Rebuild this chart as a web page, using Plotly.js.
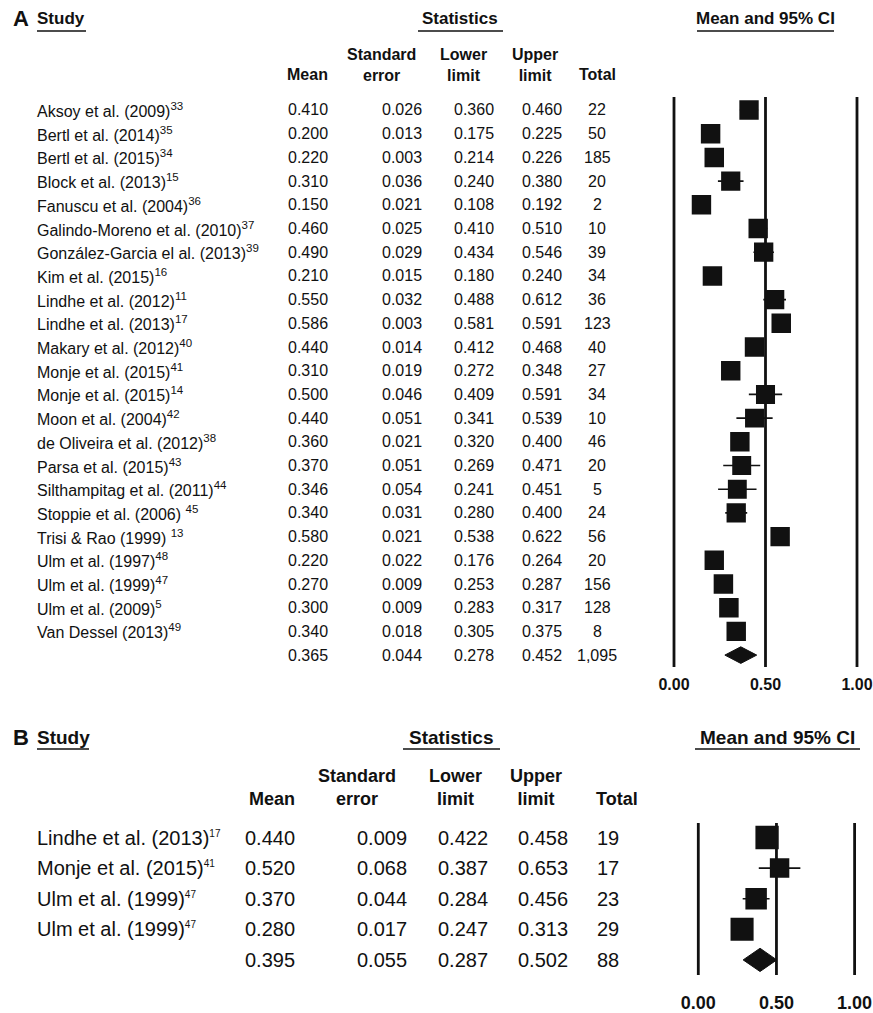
<!DOCTYPE html>
<html><head><meta charset="utf-8">
<script src="https://cdn.plot.ly/plotly-3.0.1.min.js"></script>
<style>html,body{margin:0;padding:0;background:#fff}#chart{width:873px;height:1013px}</style>
</head><body><div id="chart"></div>
<script>
// ---------------- DATA: panel A ----------------
const studiesA = [
  'Aksoy et al. (2009)<sup>33</sup>',
  'Bertl et al. (2014)<sup>35</sup>',
  'Bertl et al. (2015)<sup>34</sup>',
  'Block et al. (2013)<sup>15</sup>',
  'Fanuscu et al. (2004)<sup>36</sup>',
  'Galindo-Moreno et al. (2010)<sup>37</sup>',
  'González-Garcia el al. (2013)<sup>39</sup>',
  'Kim et al. (2015)<sup>16</sup>',
  'Lindhe et al. (2012)<sup>11</sup>',
  'Lindhe et al. (2013)<sup>17</sup>',
  'Makary et al. (2012)<sup>40</sup>',
  'Monje et al. (2015)<sup>41</sup>',
  'Monje et al. (2015)<sup>14</sup>',
  'Moon et al. (2004)<sup>42</sup>',
  'de Oliveira et al. (2012)<sup>38</sup>',
  'Parsa et al. (2015)<sup>43</sup>',
  'Silthampitag et al. (2011)<sup>44</sup>',
  'Stoppie et al. (2006) <sup>45</sup>',
  'Trisi &amp; Rao (1999) <sup>13</sup>',
  'Ulm et al. (1997)<sup>48</sup>',
  'Ulm et al. (1999)<sup>47</sup>',
  'Ulm et al. (2009)<sup>5</sup>',
  'Van Dessel (2013)<sup>49</sup>'
];
const meanA  = [0.410,0.200,0.220,0.310,0.150,0.460,0.490,0.210,0.550,0.586,0.440,0.310,0.500,0.440,0.360,0.370,0.346,0.340,0.580,0.220,0.270,0.300,0.340];
const seA    = [0.026,0.013,0.003,0.036,0.021,0.025,0.029,0.015,0.032,0.003,0.014,0.019,0.046,0.051,0.021,0.051,0.054,0.031,0.021,0.022,0.009,0.009,0.018];
const lowerA = [0.360,0.175,0.214,0.240,0.108,0.410,0.434,0.180,0.488,0.581,0.412,0.272,0.409,0.341,0.320,0.269,0.241,0.280,0.538,0.176,0.253,0.283,0.305];
const upperA = [0.460,0.225,0.226,0.380,0.192,0.510,0.546,0.240,0.612,0.591,0.468,0.348,0.591,0.539,0.400,0.471,0.451,0.400,0.622,0.264,0.287,0.317,0.375];
const totalA = [22,50,185,20,2,10,39,34,36,123,40,27,34,10,46,20,5,24,56,20,156,128,8];
const summaryMeanA = 0.365, summarySeA = 0.044, summaryLowerA = 0.278, summaryUpperA = 0.452, summaryTotalA = 1095;

// ---------------- DATA: panel B ----------------
const studiesB = [
  'Lindhe et al. (2013)<sup>17</sup>',
  'Monje et al. (2015)<sup>41</sup>',
  'Ulm et al. (1999)<sup>47</sup>',
  'Ulm et al. (1999)<sup>47</sup>'
];
const meanB  = [0.440,0.520,0.370,0.280];
const seB    = [0.009,0.068,0.044,0.017];
const lowerB = [0.422,0.387,0.284,0.247];
const upperB = [0.458,0.653,0.456,0.313];
const totalB = [19,17,23,29];
const summaryMeanB = 0.395, summarySeB = 0.055, summaryLowerB = 0.287, summaryUpperB = 0.502, summaryTotalB = 88;

const tickValues = [0, 0.5, 1];
const tickLabels = ['0.00', '0.50', '1.00'];

// ---------------- LAYOUT HELPERS ----------------
const W = 873, H = 1013;
const FONT = 'Liberation Sans, Arial, Helvetica, sans-serif';
const INK = '#111';
const px = v => v / W;
const py = v => 1 - v / H;

const traces = [], annotations = [], shapes = [];
const layout = {
  width: W, height: H, margin: {l:0, r:0, t:0, b:0},
  paper_bgcolor: '#fff', plot_bgcolor: 'rgba(0,0,0,0)',
  showlegend: false, font: {family: FONT, color: INK},
  annotations, shapes
};

function txt(text, x, y, yref, xanchor, size, bold) {
  annotations.push({
    text, x, y, xref: 'paper', yref, showarrow: false,
    xanchor, yanchor: 'middle', align: xanchor === 'left' ? 'left' : (xanchor === 'right' ? 'right' : 'center'),
    borderpad: 0, borderwidth: 0,
    font: {family: FONT, size, color: INK, weight: bold ? 'bold' : 'normal'}
  });
}
function uline(x0, x1, y) {
  shapes.push({type:'line', xref:'paper', yref:'paper', x0: px(x0), x1: px(x1), y0: py(y), y1: py(y),
    line:{color: INK, width: 1.6}});
}

function panel(cfg) {
  const n = cfg.mean.length;
  const xa = cfg.xa, ya = cfg.ya;
  const xName = 'xaxis' + (xa === 'x' ? '' : xa.slice(1));
  const yName = 'yaxis' + (ya === 'y' ? '' : ya.slice(1));
  const g = cfg.geo;
  const x0 = g.zeroPx - 0.05 * g.unitPx, x1 = g.zeroPx + 1.05 * g.unitPx;
  layout[xName] = {
    domain: [px(x0), px(x1)], range: [-0.05, 1.05], anchor: ya,
    showgrid: false, zeroline: false, showline: false, ticks: '',
    tickvals: tickValues, ticktext: tickLabels,
    tickfont: {family: FONT, size: g.tickSize, color: INK, weight: 'bold'},
    fixedrange: true
  };
  const rowToPx = r => g.row0 + r * g.rowStep;
  const pxToRow = p => (p - g.row0) / g.rowStep;
  layout[yName] = {
    domain: [py(g.axisPx), py(rowToPx(-1.2))],
    range: [pxToRow(g.axisPx), -1.2], anchor: xa,
    showgrid: false, zeroline: false, showline: false, showticklabels: false, ticks: '',
    fixedrange: true
  };
  tickValues.forEach(v => shapes.push({type:'line', xref: xa, yref: ya, x0: v, x1: v,
    y0: pxToRow(g.lineTop), y1: pxToRow(g.lineBottom), line:{color: INK, width: 2.8}, layer:'below'}));

  // marker sizes from random-effects weights
  const k = n;
  const meanVar = cfg.se.reduce((a, s) => a + s*s, 0) / k;
  const tau2 = Math.max(0, k * cfg.sSe * cfg.sSe - meanVar);
  const w = cfg.se.map(s => 1 / (s*s + tau2));
  const wMax = Math.max(...w);
  const rows = cfg.mean.map((_, i) => i);
  traces.push({
    type: 'scatter', mode: 'markers', xaxis: xa, yaxis: ya, hoverinfo: 'skip',
    x: cfg.mean, y: rows,
    marker: {symbol: 'square', color: INK, opacity: 1,
             size: w.map(v => g.boxSize * Math.sqrt(v / wMax)), line:{width:0}},
    error_x: {type: 'data', symmetric: false,
      array: cfg.upper.map((u, i) => u - cfg.mean[i]),
      arrayminus: cfg.lower.map((l, i) => cfg.mean[i] - l),
      width: 0, thickness: 1.6, color: INK}
  });
  const sr = n, h = g.diamondHalf;
  traces.push({
    type: 'scatter', mode: 'lines', xaxis: xa, yaxis: ya, hoverinfo: 'skip',
    x: [cfg.sLower, cfg.sMean, cfg.sUpper, cfg.sMean, cfg.sLower],
    y: [sr, sr - h, sr, sr + h, sr],
    fill: 'toself', fillcolor: INK, line: {color: INK, width: 1}
  });
  const yref = ya;
  const f3 = v => v.toFixed(3);
  const c = cfg.cols;
  const supSize = g.supSize;
  const nameText = s => s.replace(/<sup>(.*?)<\/sup>/, '<sup><span style="font-size:' + supSize + 'px">$1</span></sup>');
  for (let i = 0; i <= n; i++) {
    const isSum = i === n;
    const m = isSum ? cfg.sMean : cfg.mean[i];
    const s = isSum ? cfg.sSe : cfg.se[i];
    const lo = isSum ? cfg.sLower : cfg.lower[i];
    const up = isSum ? cfg.sUpper : cfg.upper[i];
    const t = isSum ? cfg.sTotal : cfg.total[i];
    if (!isSum) txt(nameText(cfg.names[i]), px(c.name), i, yref, 'left', g.bodySize, false);
    txt(f3(m), px(c.mean), i, yref, 'right', g.bodySize, false);
    txt(f3(s), px(c.se), i, yref, 'right', g.bodySize, false);
    txt(f3(lo), px(c.low), i, yref, 'right', g.bodySize, false);
    txt(f3(up), px(c.up), i, yref, 'right', g.bodySize, false);
    txt(t.toLocaleString('en-US'), px(c.tot), i, yref, 'center', g.bodySize, false);
  }
  const hd = cfg.head;
  txt(cfg.letter, px(hd.letterX), py(hd.titleY), 'paper', 'center', hd.letterSize, true);
  txt('Study', px(hd.studyX0), py(hd.titleY), 'paper', 'left', hd.titleSize, true);
  txt('Statistics', px(hd.statsC), py(hd.titleY), 'paper', 'center', hd.titleSize, true);
  txt('Mean and 95% CI', px(hd.ciC), py(hd.titleY), 'paper', 'center', hd.titleSize, true);
  uline(hd.studyX0, hd.studyX1, hd.ulY);
  uline(hd.statsX0, hd.statsX1, hd.ulY);
  uline(hd.ciX0, hd.ciX1, hd.ulY);
  txt('Mean', px(c.mean), py(hd.line2Y), 'paper', 'right', hd.headSize, true);
  txt('Standard<br>error', px(hd.seC), py((hd.line1Y + hd.line2Y) / 2), 'paper', 'center', hd.headSize, true);
  txt('Lower<br>limit', px(hd.lowC), py((hd.line1Y + hd.line2Y) / 2), 'paper', 'center', hd.headSize, true);
  txt('Upper<br>limit', px(hd.upC), py((hd.line1Y + hd.line2Y) / 2), 'paper', 'center', hd.headSize, true);
  txt('Total', px(hd.totC), py(hd.line2Y), 'paper', 'center', hd.headSize, true);
}

panel({
  letter: 'A', names: studiesA, mean: meanA, se: seA, lower: lowerA, upper: upperA, total: totalA,
  sMean: summaryMeanA, sSe: summarySeA, sLower: summaryLowerA, sUpper: summaryUpperA, sTotal: summaryTotalA,
  xa: 'x', ya: 'y',
  geo: {zeroPx: 674, unitPx: 183, row0: 110, rowStep: 23.7, axisPx: 673, lineTop: 97, lineBottom: 667,
        boxSize: 19.5, diamondHalf: 0.35, tickSize: 16, bodySize: 16, supSize: 11.5},
  cols: {name: 37, mean: 328, se: 422, low: 494, up: 562, tot: 597},
  head: {letterX: 21, letterSize: 22, titleY: 18, titleSize: 17, headSize: 16,
         studyX0: 37, studyX1: 86, statsC: 460, statsX0: 418, statsX1: 503, ciC: 765, ciX0: 697, ciX1: 834,
         ulY: 31, line1Y: 55, line2Y: 75, seC: 381, lowC: 463, upC: 535, totC: 597}
});

panel({
  letter: 'B', names: studiesB, mean: meanB, se: seB, lower: lowerB, upper: upperB, total: totalB,
  sMean: summaryMeanB, sSe: summarySeB, sLower: summaryLowerB, sUpper: summaryUpperB, sTotal: summaryTotalB,
  xa: 'x2', ya: 'y2',
  geo: {zeroPx: 698.3, unitPx: 156.3, row0: 837.5, rowStep: 30.6, axisPx: 990, lineTop: 823, lineBottom: 975,
        boxSize: 23.3, diamondHalf: 0.38, tickSize: 18, bodySize: 20, supSize: 10},
  cols: {name: 37, mean: 295, se: 407, low: 488, up: 568, tot: 608},
  head: {letterX: 21, letterSize: 22, titleY: 737, titleSize: 19, headSize: 18,
         studyX0: 37, studyX1: 89, statsC: 451, statsX0: 403, statsX1: 500, ciC: 777, ciX0: 695, ciX1: 860,
         ulY: 749, line1Y: 775, line2Y: 799, seC: 357, lowC: 455, upC: 536, totC: 617}
});

Plotly.newPlot('chart', traces, layout, {staticPlot: true, displayModeBar: false});
</script>
</body></html>
